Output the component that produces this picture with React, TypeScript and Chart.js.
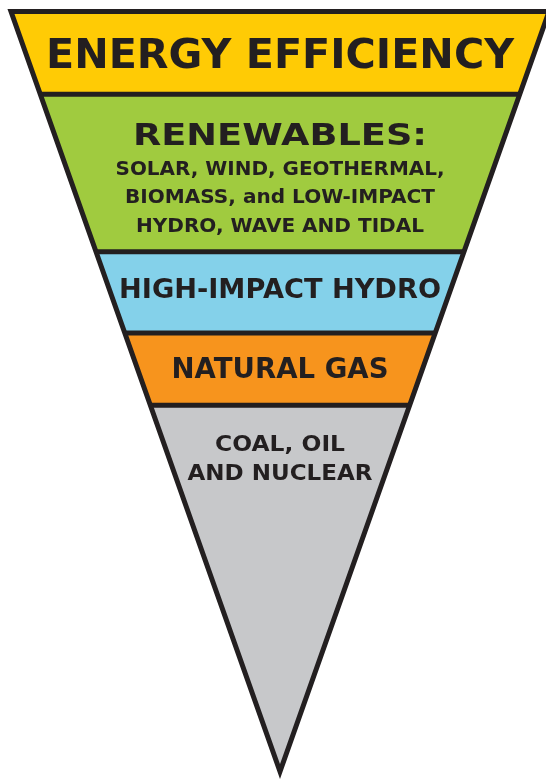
import React, { useEffect, useRef } from 'react';
import { Chart, registerables } from 'chart.js';

Chart.register(...registerables);

// ---- data ----
const tiers = ['Energy efficiency', 'Renewables', 'High-impact hydro', 'Natural gas', 'Coal, oil and nuclear'];
// share of the inverted pyramid's height taken by each tier (top to apex), in %
const tierShares = [10.9, 20.7, 10.7, 9.5, 48.2];
const tierColors = ['#FFCB05', '#A0CB3F', '#84D1EA', '#F7941D', '#C7C8CA'];
const tierLabels = [
  ['ENERGY EFFICIENCY'],
  ['RENEWABLES:', 'SOLAR, WIND, GEOTHERMAL,', 'BIOMASS, and LOW-IMPACT', 'HYDRO, WAVE AND TIDAL'],
  ['HIGH-IMPACT HYDRO'],
  ['NATURAL GAS'],
  ['COAL, OIL', 'AND NUCLEAR'],
];

// ---- styles (font size, fitted width, vertical offset from tier middle) ----
const labelStyles = [
  [{ size: 41, width: 468, dy: 0 }],
  [
    { size: 31, width: 294, dy: -39 },
    { size: 20, width: 329, dy: -5.5 },
    { size: 20, width: 310, dy: 23 },
    { size: 20, width: 288, dy: 52 },
  ],
  [{ size: 26, width: 322, dy: -4.5 }],
  [{ size: 28, width: 217, dy: -1.5 }],
  [
    { size: 21.5, width: 130, dy: -145 },
    { size: 21.5, width: 185, dy: -116.5 },
  ],
];

const INK = '#231F20';
const LINE_W = 5;
const TOP_HALF = 50; // half-width of the pyramid top, in x units

const bounds: number[] = [0];
tierShares.forEach((s) => bounds.push(bounds[bounds.length - 1] + s));
const total = bounds[bounds.length - 1];
const halfWidth = (d: number) => TOP_HALF * (1 - d / total);

const labelPlugin = {
  id: 'tierLabels',
  afterDatasetsDraw(chart: any) {
    const { ctx, scales } = chart;
    const xs = scales.x;
    const ys = scales.y;
    const cx = xs.getPixelForValue(0);
    ctx.save();
    ctx.fillStyle = INK;
    ctx.textAlign = 'center';
    ctx.textBaseline = 'alphabetic';
    tierLabels.forEach((lines, i) => {
      const mid = ys.getPixelForValue((bounds[i] + bounds[i + 1]) / 2);
      lines.forEach((text, j) => {
        const st = labelStyles[i][j];
        ctx.font = `bold ${st.size}px "DejaVu Sans", sans-serif`;
        const w = ctx.measureText(text).width;
        const capH = ctx.measureText('H').actualBoundingBoxAscent;
        ctx.save();
        ctx.translate(cx, mid + st.dy + capH / 2);
        ctx.scale(st.width / w, 1);
        ctx.fillText(text, 0, 0);
        ctx.restore();
      });
    });
    ctx.restore();
  },
};

export default function App() {
  const ref = useRef<HTMLCanvasElement | null>(null);

  useEffect(() => {
    document.body.style.margin = '0';
    const canvas = ref.current;
    if (!canvas) return;

    const bandSets = tiers.map((name, i) => {
      const d0 = bounds[i];
      const d1 = bounds[i + 1];
      const w0 = halfWidth(d0);
      const w1 = halfWidth(d1);
      return {
        label: name,
        data: [
          { x: -w0, y: d0 },
          { x: w0, y: d0 },
          { x: w1, y: d1 },
          { x: -w1, y: d1 },
          { x: -w0, y: d0 },
        ],
        fill: 'shape',
        backgroundColor: tierColors[i],
        borderColor: 'rgba(0,0,0,0)',
        borderWidth: 0,
        pointRadius: 0,
        tension: 0,
        order: 2,
        clip: false,
      };
    });

    const sepSets = bounds.slice(1, -1).map((d, i) => ({
      label: 'sep' + i,
      data: [
        { x: -halfWidth(d), y: d },
        { x: halfWidth(d), y: d },
      ],
      fill: false,
      borderColor: INK,
      borderWidth: LINE_W,
      pointRadius: 0,
      order: 1,
      clip: false,
    }));

    const outline = {
      label: 'outline',
      data: [
        { x: -TOP_HALF, y: 0 },
        { x: TOP_HALF, y: 0 },
        { x: 0, y: total },
        { x: -TOP_HALF, y: 0 },
        { x: TOP_HALF, y: 0 },
      ],
      fill: false,
      borderColor: INK,
      borderWidth: LINE_W,
      borderJoinStyle: 'miter',
      borderCapStyle: 'butt',
      pointRadius: 0,
      order: 0,
      clip: false,
    };

    const padLeft = 11;
    const halfPx = 269;
    const xMax = -TOP_HALF + ((546 - padLeft) * TOP_HALF) / halfPx;

    const chart = new Chart(canvas, {
      type: 'line',
      data: { datasets: [...bandSets, ...sepSets, outline] as any },
      options: {
        animation: false,
        responsive: false,
        devicePixelRatio: 1,
        events: [],
        layout: { padding: { top: 11.5, left: padLeft, bottom: 8.5, right: 0 } },
        scales: {
          x: { type: 'linear', min: -TOP_HALF, max: xMax, display: false },
          y: { type: 'linear', min: 0, max: total, reverse: true, display: false },
        },
        plugins: {
          legend: { display: false },
          tooltip: { enabled: false },
        },
      } as any,
      plugins: [labelPlugin],
    });

    return () => chart.destroy();
  }, []);

  return (
    <div style={{ width: 546, height: 780, background: '#ffffff' }}>
      <canvas ref={ref} width={546} height={780} style={{ display: 'block' }} />
    </div>
  );
}
